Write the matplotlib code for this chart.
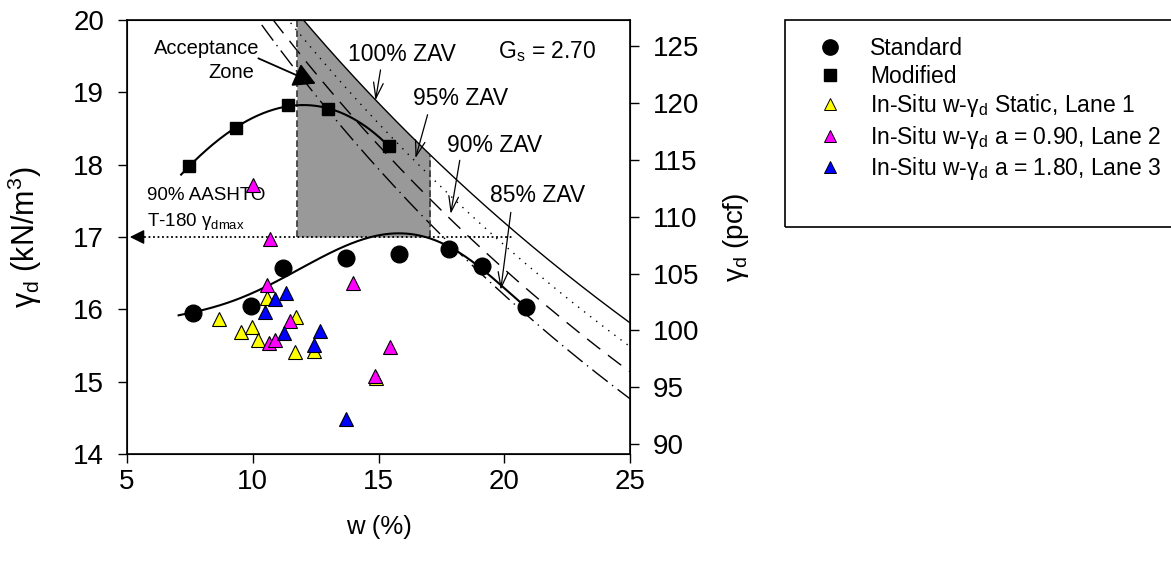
import numpy as np
import matplotlib
matplotlib.use("Agg")
import matplotlib.pyplot as plt
from matplotlib.lines import Line2D
from matplotlib.patches import Rectangle

plt.rcParams['font.family'] = ['Liberation Sans', 'DejaVu Sans']
plt.rcParams['mathtext.fontset'] = 'custom'
plt.rcParams['mathtext.rm'] = 'Liberation Sans'
plt.rcParams['mathtext.it'] = 'Liberation Sans:italic'

# lab compaction tests (w in %, unit weight in kN/m3)
std_w = [7.63, 9.94, 11.2, 13.7, 15.8, 17.8, 19.1, 20.86]
std_g = [15.95, 16.05, 16.57, 16.71, 16.76, 16.83, 16.6, 16.03]
mod_w = [7.47, 9.34, 11.41, 13.0, 15.4]
mod_g = [17.98, 18.51, 18.82, 18.77, 18.26]

# compaction curve traced through the standard tests
std_curve_w = [7.05, 7.91, 8.71, 10.03, 11.23, 12.69, 14.02, 15.08, 15.74, 16.94, 17.8, 18.67, 19.1, 20.86]
std_curve_g = [15.92, 15.98, 16.05, 16.24, 16.45, 16.70, 16.91, 17.03, 17.07, 17.0, 16.85, 16.66, 16.58, 16.03]

# in-situ measurements
lane1_w = [8.64, 9.53, 9.97, 10.19, 10.57, 11.72, 11.69, 12.45, 14.88]
lane1_g = [15.86, 15.68, 15.75, 15.58, 16.15, 15.90, 15.41, 15.42, 15.05]
lane2_w = [9.99, 10.70, 10.57, 11.49, 10.63, 10.90, 13.98, 14.84, 15.44]
lane2_g = [17.72, 16.97, 16.34, 15.84, 15.53, 15.57, 16.36, 15.08, 15.48]
lane3_w = [10.90, 11.33, 10.50, 11.25, 12.69, 12.42, 13.69]
lane3_g = [16.14, 16.23, 15.97, 15.67, 15.70, 15.51, 14.48]

Gs = 2.70
gamma_w = 9.81
saturations = [1.00, 0.95, 0.90, 0.85]
zav_styles = ['-', (0, (1, 4.5)), (0, (12, 7)), (0, (14, 4, 1, 4))]

gamma_90 = 17.0            # 90% of modified max dry unit weight
w_accept = [11.75, 17.05]  # acceptance window on water content
KN_TO_PCF = 6.3659

fig = plt.figure(figsize=(11.71, 5.63), dpi=100)
ax = fig.add_axes([0.1085, 0.1936, 0.4295, 0.7709])


def zav(w, s):
    return Gs * gamma_w / (1 + (w / 100.0) * Gs / s)


ww = np.linspace(5, 25, 400)
for s, ls in zip(saturations, zav_styles):
    ax.plot(ww, zav(ww, s), color='k', lw=1.0, linestyle=ls)

# acceptance zone
wz = np.linspace(w_accept[0], w_accept[1], 200)
ax.fill_between(wz, gamma_90, np.minimum(zav(wz, 1.0), 20), color='#999999', lw=0, zorder=1)
ax.plot([w_accept[0]] * 2, [gamma_90, 20], color='#333333', lw=1.2, ls=(0, (4, 2)), zorder=2)
ax.plot([w_accept[1]] * 2, [gamma_90, zav(w_accept[1], 1.0)], color='#333333', lw=1.2, ls=(0, (4, 2)), zorder=2)

# 90% line with arrow to axis
ax.plot([5.3, 20.3], [gamma_90, gamma_90], color='k', lw=1.3, ls=(0, (1, 1.5)))
ax.annotate('', xy=(5.0, gamma_90), xytext=(5.6, gamma_90),
            arrowprops=dict(arrowstyle='-|>', color='k', lw=1, mutation_scale=22))

# compaction curves
cs = np.polyfit(std_curve_w, std_curve_g, 5)
wc = np.linspace(std_curve_w[0], std_curve_w[-1], 300)
ax.plot(wc, np.polyval(cs, wc), color='k', lw=1.5, zorder=3)
cm = np.polyfit(mod_w, mod_g, 3)
wm = np.linspace(7.15, 15.6, 200)
ax.plot(wm, np.polyval(cm, wm), color='k', lw=1.5, zorder=3)

ax.plot(std_w, std_g, 'o', color='k', ms=12, zorder=4)
ax.plot(mod_w, mod_g, 's', color='k', ms=8.5, zorder=4)

tri = dict(marker='^', ls='none', ms=10, mec='k', mew=0.8, zorder=5)
ax.plot(lane1_w, lane1_g, mfc='#ffff00', **tri)
ax.plot(lane2_w, lane2_g, mfc='#ff00ff', **tri)
ax.plot(lane3_w, lane3_g, mfc='#0000ff', **tri)

# annotations
ax.text(8.15, 19.61, 'Acceptance', ha='center', va='center', fontsize=14.5)
ax.text(9.15, 19.28, 'Zone', ha='center', va='center', fontsize=14.5)
ax.annotate('', xy=(12.5, 19.12), xytext=(10.22, 19.47),
            arrowprops=dict(arrowstyle='-|>,head_length=0.9,head_width=0.5', color='k', lw=1.3,
                            mutation_scale=15, shrinkA=0, shrinkB=0))

zav_labels = [
    ('100% ZAV', (15.95, 19.52), (15.08, 19.31), (14.88, 18.89)),
    ('95% ZAV', (18.27, 18.92), (16.95, 18.69), (16.47, 18.09)),
    ('90% ZAV', (19.62, 18.27), (18.23, 18.06), (17.87, 17.32)),
    ('85% ZAV', (21.32, 17.58), (20.26, 17.34), (19.86, 16.27)),
]
for txt, tpos, tail, head in zav_labels:
    ax.text(tpos[0], tpos[1], txt, ha='center', va='center', fontsize=16.5)
    ax.annotate('', xy=head, xytext=tail,
                arrowprops=dict(arrowstyle='->,head_length=0.8,head_width=0.25', color='k', lw=0.9,
                                mutation_scale=14, shrinkA=0, shrinkB=0))

ax.text(21.69, 19.56, 'G$_\\mathrm{s}$ = 2.70', ha='center', va='center', fontsize=16.5)
ax.text(5.8, 17.58, '90% AASHTO', ha='left', va='center', fontsize=13.5)
ax.text(5.8, 17.21, 'T-180 γ$_\\mathrm{dmax}$', ha='left', va='center', fontsize=13.5)

ax.set_xlim(5, 25)
ax.set_ylim(14, 20)
ax.set_xticks([5, 10, 15, 20, 25])
ax.set_yticks([14, 15, 16, 17, 18, 19, 20])
ax.tick_params(axis='y', direction='out', length=6.5, labelsize=20, width=1, pad=10)
ax.tick_params(axis='x', direction='out', length=6.5, labelsize=20, width=1, pad=4)
ax.set_xlabel('w (%)', fontsize=18.5)
ax.set_ylabel('γ$_\\mathrm{d}$ (kN/m$^3$)', fontsize=22)
ax.xaxis.set_label_coords(0.5, -0.14)
ax.yaxis.set_label_coords(-0.165, 0.5)
for sp in ax.spines.values():
    sp.set_linewidth(1.2)

ax2 = ax.twinx()
ax2.set_ylim(14 * KN_TO_PCF, 20 * KN_TO_PCF)
ax2.set_yticks([90, 95, 100, 105, 110, 115, 120, 125])
ax2.tick_params(direction='out', length=6.5, labelsize=20, width=1, pad=10)
ax2.set_ylabel('γ$_\\mathrm{d}$ (pcf)', fontsize=20)
ax2.yaxis.set_label_coords(1.18, 0.5)

# legend box runs past the right edge of the figure
fig.patches.append(Rectangle((785 / 1171, 1 - 227 / 563), 0.4, (227 - 20) / 563,
                             transform=fig.transFigure, fill=False, edgecolor='k', lw=1.2))
handles = [
    Line2D([], [], marker='o', ls='none', color='k', ms=11),
    Line2D([], [], marker='s', ls='none', color='k', ms=8),
    Line2D([], [], marker='^', ls='none', mfc='#ffff00', mec='k', mew=0.7, ms=8),
    Line2D([], [], marker='^', ls='none', mfc='#ff00ff', mec='k', mew=0.7, ms=8),
    Line2D([], [], marker='^', ls='none', mfc='#0000ff', mec='k', mew=0.7, ms=8),
]
labels = ['Standard', 'Modified',
          'In-Situ w-γ$_\\mathrm{d}$ Static, Lane 1',
          'In-Situ w-γ$_\\mathrm{d}$ a = 0.90, Lane 2',
          'In-Situ w-γ$_\\mathrm{d}$ a = 1.80, Lane 3']
fig.legend(handles, labels, loc='upper left', bbox_to_anchor=(807 / 1171, 1 - 37 / 563),
           fontsize=16.5, frameon=False, handlelength=2.0, handletextpad=0.75,
           labelspacing=0.2, borderpad=0, borderaxespad=0)

fig.savefig('out.png', dpi=100)
